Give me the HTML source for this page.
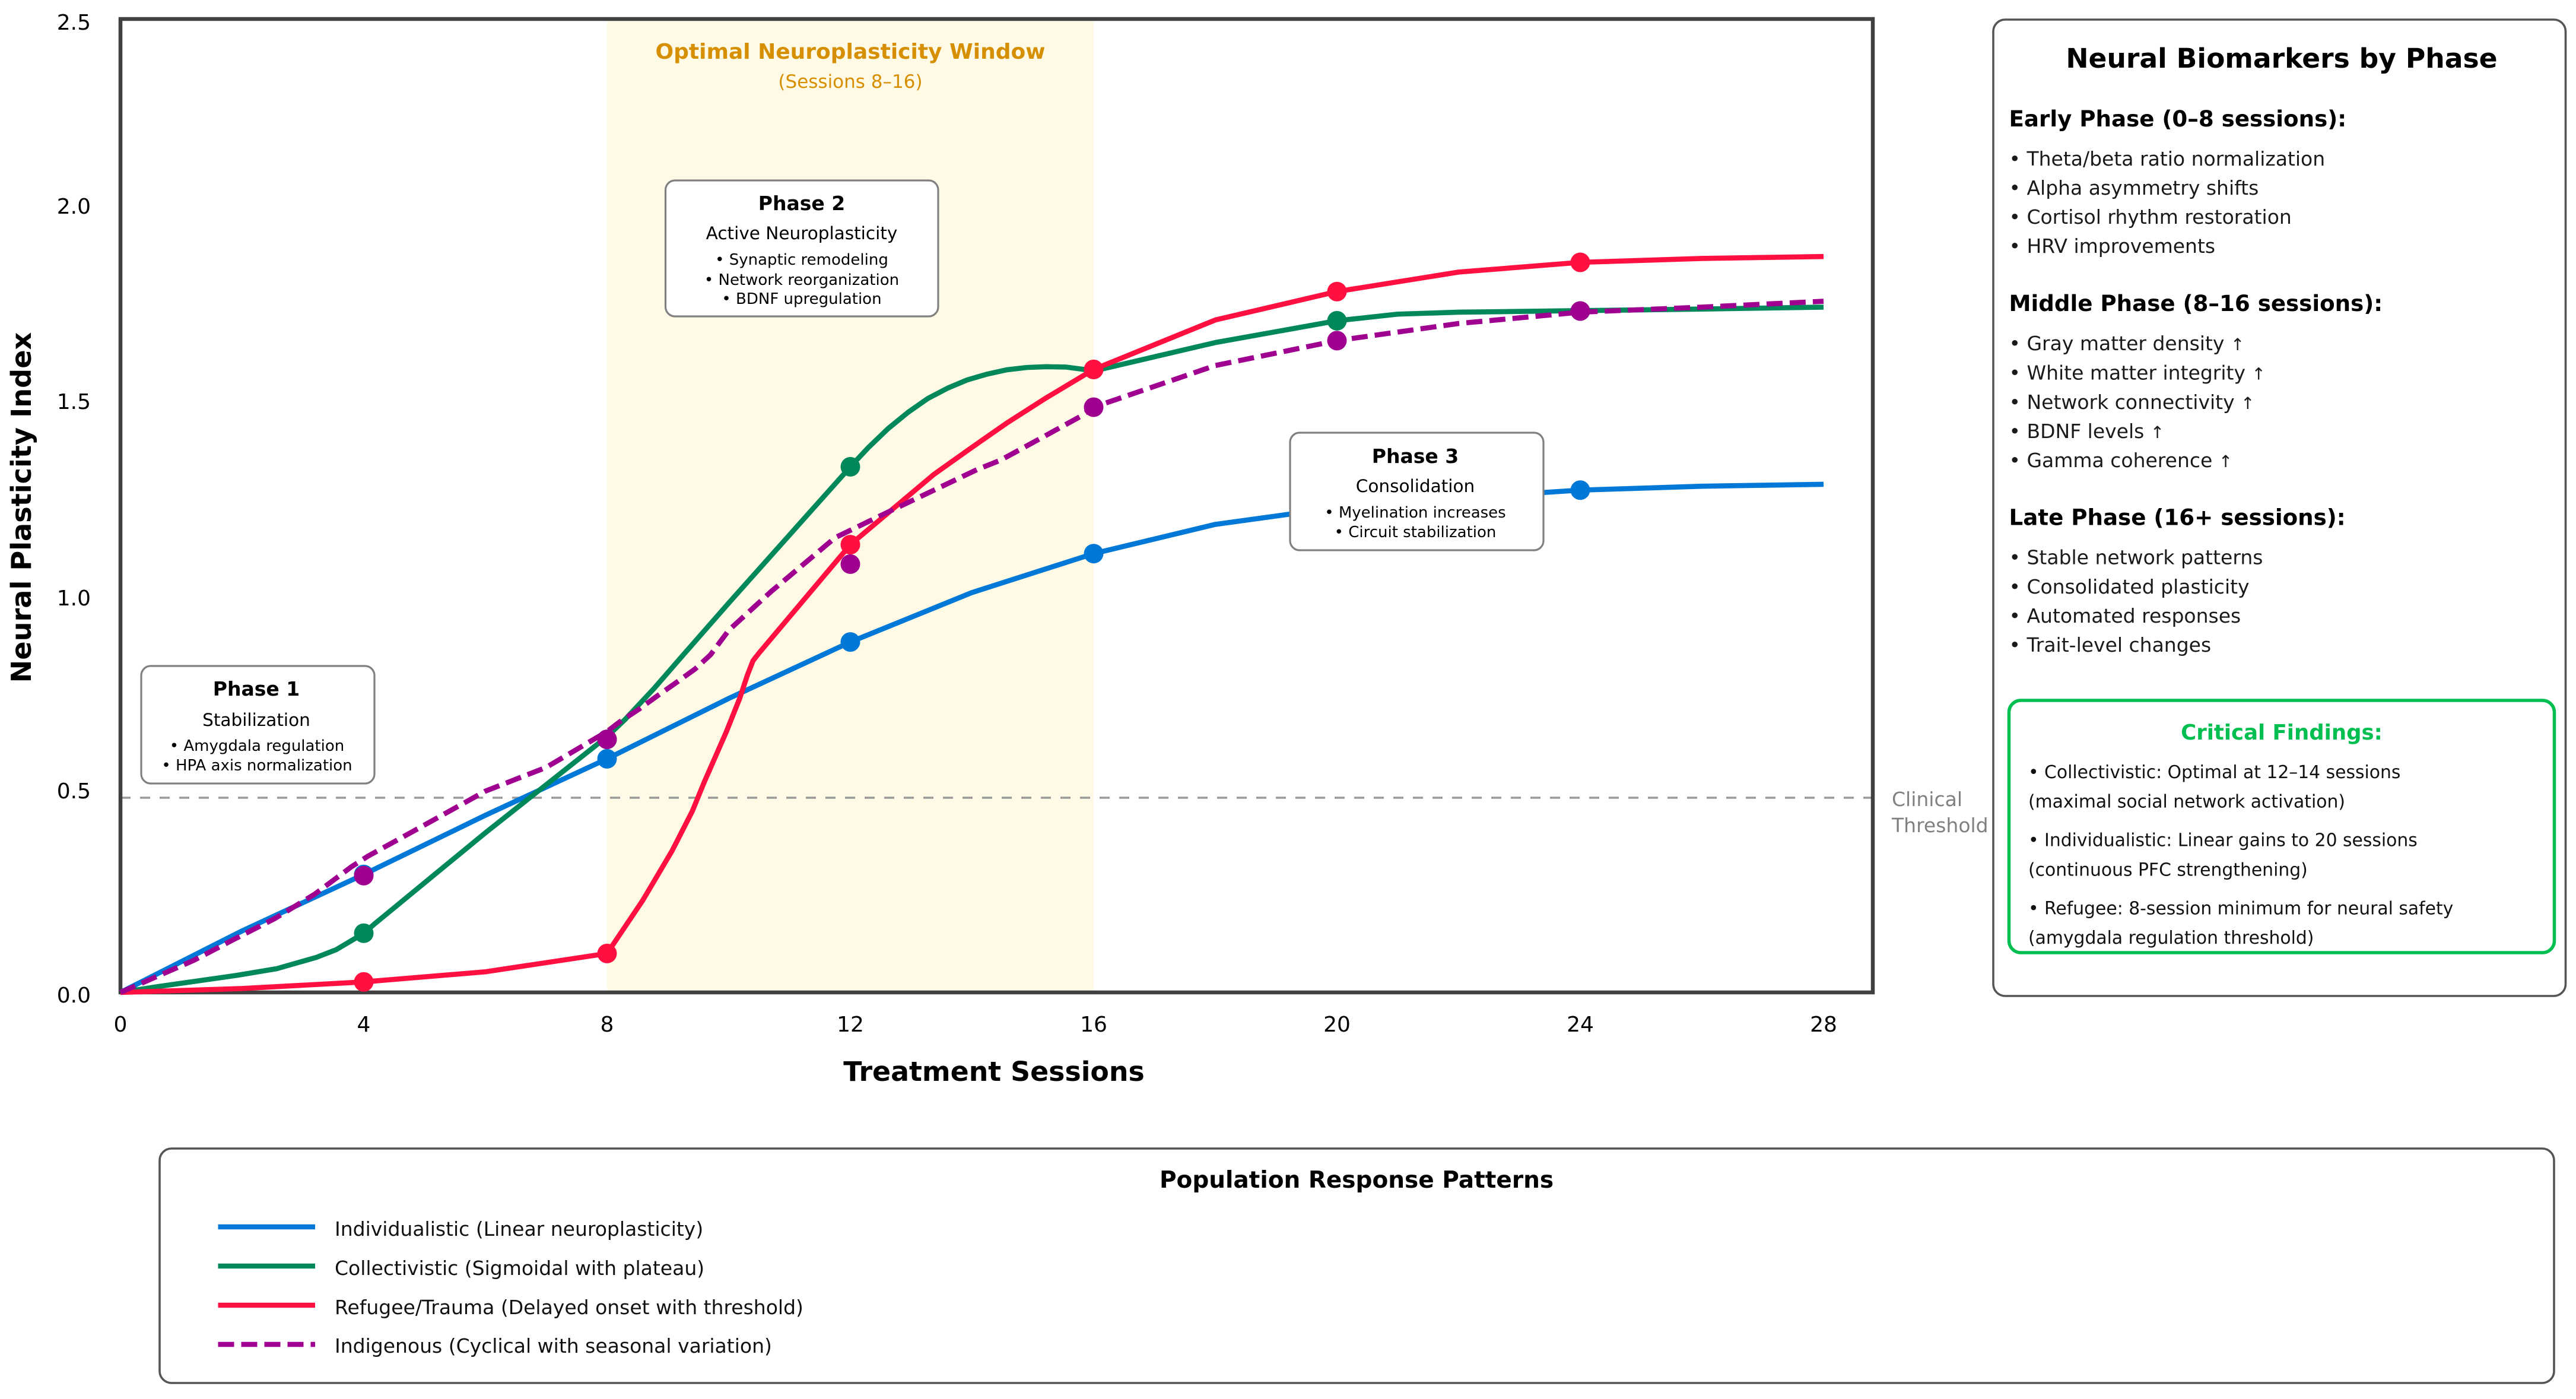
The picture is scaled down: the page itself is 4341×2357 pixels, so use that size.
<!DOCTYPE html>
<html lang="en">
<head>
<meta charset="utf-8">
<title>Neural Plasticity Trajectories</title>
<style>
html,body{margin:0;padding:0;background:#fff;}
svg{display:block;}
text{font-family:"DejaVu Sans","Liberation Sans",sans-serif;fill:#000;}
.b{font-weight:bold;}
.m{text-anchor:middle;}
.item{font-size:33px;fill:#1a1a1a;}
.arrow{font-size:28px;}
.sec{font-size:37.2px;font-weight:bold;}
.crit{font-size:29.8px;fill:#111;}
.ph{font-size:33px;font-weight:bold;text-anchor:middle;}
.ps{font-size:29.5px;text-anchor:middle;}
.pb{font-size:26px;text-anchor:middle;}
.leg{font-size:33px;fill:#111;}
.box{fill:#fff;stroke:#808080;stroke-width:3.2;}
.panel{fill:#fff;stroke:#555;stroke-width:3.6;}
</style>
</head>
<body>
<svg id="chart" xmlns="http://www.w3.org/2000/svg" width="4341" height="2357" viewBox="0 0 4341 2357">
  <rect width="4341" height="2357" fill="#fff"/>
  <rect id="band" fill="#FFFAE6"/>
  <line id="threshold" stroke="#9a9a9a" stroke-width="3.6" stroke-dasharray="17 16"/>
  <rect x="203" y="32" width="2953" height="1640" fill="none" stroke="#404040" stroke-width="6.5"/>
  <g id="series"></g>
  <g id="markers"></g>
  <g id="ticks"></g>

  <text x="52" y="855" transform="rotate(-90 52 855)" class="b m" font-size="46.2">Neural Plasticity Index</text>
  <text x="1675" y="1821" class="b m" font-size="45.8">Treatment Sessions</text>

  <text x="1433" y="99" class="b m" font-size="36" style="fill:#D68F00">Optimal Neuroplasticity Window</text>
  <text x="1433" y="148" class="m" font-size="31" style="fill:#D68F00">(Sessions 8–16)</text>

  <text x="3188" y="1358" font-size="33" style="fill:#808080">Clinical</text>
  <text x="3188" y="1402" font-size="33" style="fill:#808080">Threshold</text>

  <g>
    <rect class="box" x="238" y="1122" width="393" height="198" rx="16"/>
    <text class="ph" x="432" y="1172">Phase 1</text>
    <text class="ps" x="432" y="1223">Stabilization</text>
    <text class="pb" x="433" y="1265">• Amygdala regulation</text>
    <text class="pb" x="433" y="1298">• HPA axis normalization</text>
  </g>
  <g>
    <rect class="box" x="1121.5" y="304" width="459.5" height="229" rx="16"/>
    <text class="ph" x="1351" y="354">Phase 2</text>
    <text class="ps" x="1351" y="403">Active Neuroplasticity</text>
    <text class="pb" x="1351" y="446">• Synaptic remodeling</text>
    <text class="pb" x="1351" y="480">• Network reorganization</text>
    <text class="pb" x="1351" y="512">• BDNF upregulation</text>
  </g>
  <g>
    <rect class="box" x="2174" y="729" width="427" height="198" rx="16"/>
    <text class="ph" x="2385" y="780">Phase 3</text>
    <text class="ps" x="2385" y="829">Consolidation</text>
    <text class="pb" x="2385" y="872">• Myelination increases</text>
    <text class="pb" x="2385" y="905">• Circuit stabilization</text>
  </g>

  <g>
    <rect class="panel" x="3359" y="33" width="964.5" height="1645" rx="20"/>
    <text x="3845" y="114" class="b m" font-size="45.6">Neural Biomarkers by Phase</text>
    <text class="sec" x="3385.5" y="213">Early Phase (0–8 sessions):</text>
    <text class="item" x="3385.5" y="279">• Theta/beta ratio normalization</text>
    <text class="item" x="3385.5" y="328">• Alpha asymmetry shifts</text>
    <text class="item" x="3385.5" y="377">• Cortisol rhythm restoration</text>
    <text class="item" x="3385.5" y="426">• HRV improvements</text>
    <text class="sec" x="3385.5" y="524">Middle Phase (8–16 sessions):</text>
    <text class="item" x="3385.5" y="590">• Gray matter density <tspan class="arrow">↑</tspan></text>
    <text class="item" x="3385.5" y="639.5">• White matter integrity <tspan class="arrow">↑</tspan></text>
    <text class="item" x="3385.5" y="689">• Network connectivity <tspan class="arrow">↑</tspan></text>
    <text class="item" x="3385.5" y="738">• BDNF levels <tspan class="arrow">↑</tspan></text>
    <text class="item" x="3385.5" y="787">• Gamma coherence <tspan class="arrow">↑</tspan></text>
    <text class="sec" x="3385.5" y="884.5">Late Phase (16+ sessions):</text>
    <text class="item" x="3385.5" y="950.5">• Stable network patterns</text>
    <text class="item" x="3385.5" y="1000">• Consolidated plasticity</text>
    <text class="item" x="3385.5" y="1049">• Automated responses</text>
    <text class="item" x="3385.5" y="1098">• Trait-level changes</text>
    <rect x="3385.5" y="1180" width="919" height="425" rx="20" fill="#fff" stroke="#00BF50" stroke-width="5.5"/>
    <text x="3845" y="1246" class="b m" font-size="35.5" style="fill:#00BF50">Critical Findings:</text>
    <text class="crit" x="3418" y="1311">• Collectivistic: Optimal at 12–14 sessions</text>
    <text class="crit" x="3418" y="1360.5">(maximal social network activation)</text>
    <text class="crit" x="3418" y="1425.5">• Individualistic: Linear gains to 20 sessions</text>
    <text class="crit" x="3418" y="1475.5">(continuous PFC strengthening)</text>
    <text class="crit" x="3418" y="1540.5">• Refugee: 8-session minimum for neural safety</text>
    <text class="crit" x="3418" y="1590">(amygdala regulation threshold)</text>
  </g>

  <g>
    <rect class="panel" x="269" y="1935" width="4035" height="395" rx="20"/>
    <text x="2286" y="2001" class="b m" font-size="39">Population Response Patterns</text>
    <line x1="367.5" x2="531" y1="2067" y2="2067" stroke="#0078D7" stroke-width="8.6"/>
    <text class="leg" x="564" y="2082">Individualistic (Linear neuroplasticity)</text>
    <line x1="367.5" x2="531" y1="2133" y2="2133" stroke="#00875A" stroke-width="8.6"/>
    <text class="leg" x="564" y="2148">Collectivistic (Sigmoidal with plateau)</text>
    <line x1="367.5" x2="531" y1="2199" y2="2199" stroke="#FF1040" stroke-width="8.6"/>
    <text class="leg" x="564" y="2214">Refugee/Trauma (Delayed onset with threshold)</text>
    <line x1="367.5" x2="531" y1="2265" y2="2265" stroke="#A0008F" stroke-width="8.6" stroke-dasharray="27 12"/>
    <text class="leg" x="564" y="2279">Indigenous (Cyclical with seasonal variation)</text>
  </g>
</svg>
<script>
// Axis labels
const sessionTicks = [0, 4, 8, 12, 16, 20, 24, 28];
const valueTicks = [0, 0.5, 1, 1.5, 2, 2.5];
const valueTickLabels = ['0.0', '0.5', '1.0', '1.5', '2.0', '2.5'];
const thresholdValue = 0.5;
const windowStart = 8;
const windowEnd = 16;

// Series
const individualisticSessions = [0, 2, 4, 6, 8, 10, 12, 14, 16, 18, 20, 22, 24, 26, 28];
const individualisticValues = [0, 0.158, 0.303, 0.455, 0.60, 0.755, 0.90, 1.027, 1.127, 1.202, 1.245, 1.27, 1.29, 1.30, 1.305];

const collectivisticSessions = [0, 0.62, 1.92, 2.57, 3.22, 3.55, 3.84, 4, 4.17, 6, 8, 8.29, 8.78, 9.27, 10, 11, 12.03, 12.3, 12.62, 12.95, 13.27, 13.6, 13.92, 14.25, 14.57, 14.9, 15.22, 15.55, 15.84, 16, 18, 20, 21, 22, 24, 26, 28];
const collectivisticValues = [0, 0.015, 0.044, 0.061, 0.09, 0.11, 0.137, 0.152, 0.175, 0.41, 0.657, 0.70, 0.782, 0.87, 1.0, 1.175, 1.355, 1.40, 1.448, 1.49, 1.525, 1.552, 1.573, 1.588, 1.599, 1.605, 1.607, 1.606, 1.60, 1.596, 1.669, 1.725, 1.742, 1.747, 1.751, 1.755, 1.76];

const refugeeSessions = [0, 2, 4, 6, 8, 8.585, 9.07, 9.4, 9.6, 9.96, 10.18, 10.31, 10.4, 10.5, 12, 13.37, 14, 14.57, 15.22, 16, 18, 20, 22, 24, 26, 28];
const refugeeValues = [0, 0.01, 0.027, 0.053, 0.10, 0.236, 0.364, 0.465, 0.541, 0.669, 0.755, 0.816, 0.852, 0.872, 1.15, 1.33, 1.40, 1.462, 1.527, 1.60, 1.727, 1.80, 1.85, 1.875, 1.885, 1.89];

const indigenousSessions = [0, 1.2, 1.85, 2.54, 3.19, 3.5, 3.8, 4.07, 5, 6, 7, 8, 8.2, 8.52, 8.83, 9.14, 9.45, 9.7, 10, 10.7, 11.75, 12.65, 14.1, 14.47, 15.14, 15.78, 16, 18, 20, 22, 24, 26, 28];
const indigenousValues = [0, 0.082, 0.135, 0.19, 0.252, 0.288, 0.323, 0.35, 0.43, 0.517, 0.578, 0.67, 0.694, 0.727, 0.762, 0.796, 0.831, 0.867, 0.93, 1.03, 1.168, 1.236, 1.344, 1.367, 1.424, 1.479, 1.503, 1.61, 1.674, 1.718, 1.747, 1.76, 1.775];

// Assessment markers
const markerSessions = [4, 8, 12, 16, 20, 24];
const individualisticMarkers = [0.303, 0.60, 0.90, 1.127, 1.245, 1.29];
const collectivisticMarkers = [0.152, 0.65, 1.35, 1.60, 1.725, 1.75];
const indigenousMarkers = [0.30, 0.65, 1.10, 1.503, 1.674, 1.75];
const refugeeMarkers = [0.027, 0.10, 1.15, 1.60, 1.80, 1.875];

// Axis functions
const xAxis = { left: 203, perSession: 102.5 };
const yAxis = { bottom: 1672, perUnit: 656 };
function xScale(s) { return xAxis.left + s * xAxis.perSession; }
function yScale(v) { return yAxis.bottom - v * yAxis.perUnit; }

const SVG_NS = 'http://www.w3.org/2000/svg';
const seriesGroup = document.getElementById('series');
const markerGroup = document.getElementById('markers');
const tickGroup = document.getElementById('ticks');

function make(tag) { return document.createElementNS(SVG_NS, tag); }

function drawLine(sessions, values, color, dash, label) {
  const el = make('polyline');
  
  
  el.setAttribute('points', sessions.map(function (s, i) { return xScale(s) + ',' + yScale(values[i]); }).join(' '));
  el.setAttribute('fill', 'none');
  el.setAttribute('stroke', color);
  el.setAttribute('stroke-width', '8.6');
  el.setAttribute('stroke-linejoin', 'round');
  if (dash) { el.setAttribute('stroke-dasharray', dash); }
  seriesGroup.appendChild(el);
}

function drawMarkers(values, color, label) {
  markerSessions.forEach(function (s, i) {
    const el = make('circle');
    
    
    el.setAttribute('cx', xScale(s));
    el.setAttribute('cy', yScale(values[i]));
    el.setAttribute('r', '16.5');
    el.setAttribute('fill', color);
    markerGroup.appendChild(el);
  });
}

const band = document.getElementById('band');
band.setAttribute('x', xScale(windowStart));
band.setAttribute('y', yScale(2.5));
band.setAttribute('width', xScale(windowEnd) - xScale(windowStart));
band.setAttribute('height', yScale(0) - yScale(2.5));

const threshold = document.getElementById('threshold');
threshold.setAttribute('x1', xScale(0));
threshold.setAttribute('x2', 3156);
threshold.setAttribute('y1', yScale(thresholdValue));
threshold.setAttribute('y2', yScale(thresholdValue));

drawLine(individualisticSessions, individualisticValues, '#0078D7', null, 'line-individualistic');
drawLine(collectivisticSessions, collectivisticValues, '#00875A', null, 'line-collectivistic');
drawLine(refugeeSessions, refugeeValues, '#FF1040', null, 'line-refugee');
drawLine(indigenousSessions, indigenousValues, '#A0008F', '27 12', 'line-indigenous');

drawMarkers(individualisticMarkers, '#0078D7', 'marker-individualistic');
drawMarkers(collectivisticMarkers, '#00875A', 'marker-collectivistic');
drawMarkers(indigenousMarkers, '#A0008F', 'marker-indigenous');
drawMarkers(refugeeMarkers, '#FF1040', 'marker-refugee');

sessionTicks.forEach(function (s) {
  const el = make('text');
  
  
  el.setAttribute('x', xScale(s));
  el.setAttribute('y', 1738);
  el.setAttribute('text-anchor', 'middle');
  el.setAttribute('font-size', '36');
  el.textContent = String(s);
  tickGroup.appendChild(el);
});

// The reference nudges its y tick labels away from the exact tick height.
const yLabelNudge = { 0: 17, 0.5: 1, 1: 4, 1.5: 1, 2: 0, 2.5: 18 };
valueTicks.forEach(function (v, i) {
  const el = make('text');
  
  
  el.setAttribute('x', 153);
  el.setAttribute('y', yScale(v) + yLabelNudge[v]);
  el.setAttribute('text-anchor', 'end');
  el.setAttribute('font-size', '36');
  el.textContent = valueTickLabels[i];
  tickGroup.appendChild(el);
});
</script>
</body>
</html>
